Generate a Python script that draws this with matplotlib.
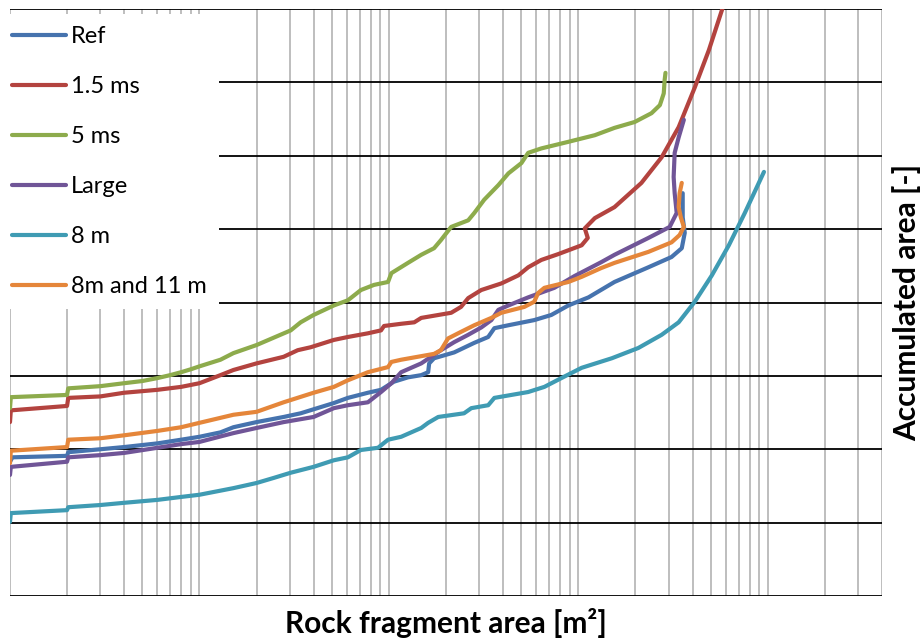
import matplotlib
matplotlib.use('Agg')
import matplotlib.pyplot as plt
from matplotlib.ticker import LogLocator, MultipleLocator, NullFormatter

# fragment area [m2] and accumulated area [-] for each run
ref_x = [1e-4, 1.03e-4, 2e-4, 2.03e-4, 3e-4, 4e-4, 6e-4, 8e-4, 1e-3, 1.29e-3,
         1.51e-3, 2e-3, 2.78e-3, 3.42e-3, 5.12e-3, 6.07e-3, 7.74e-3, 9.08e-3, 1.06e-2, 1.26e-2,
         1.48e-2, 1.61e-2, 1.63e-2, 1.73e-2, 2.21e-2, 2.82e-2, 3.34e-2, 3.60e-2, 4.27e-2, 5.84e-2,
         7.19e-2, 8.85e-2, 0.113, 0.155, 0.234, 0.310, 0.351, 0.364, 0.355, 0.355]
ref_y = [0.183, 0.189, 0.191, 0.196, 0.200, 0.203, 0.208, 0.213, 0.217, 0.223,
         0.230, 0.237, 0.244, 0.249, 0.263, 0.270, 0.277, 0.281, 0.292, 0.298,
         0.301, 0.305, 0.317, 0.324, 0.332, 0.345, 0.353, 0.365, 0.369, 0.376,
         0.383, 0.396, 0.407, 0.428, 0.448, 0.462, 0.474, 0.495, 0.516, 0.549]

ms15_x = [1e-4, 1.01e-4, 2e-4, 2.03e-4, 3e-4, 4e-4, 6e-4, 8e-4, 1e-3, 1.29e-3,
          1.51e-3, 2e-3, 2.78e-3, 3.30e-3, 3.86e-3, 5.12e-3, 6.07e-3, 7.74e-3, 9.08e-3, 9.42e-3,
          1.16e-2, 1.36e-2, 1.48e-2, 2.13e-2, 2.40e-2, 2.62e-2, 3.07e-2, 3.92e-2, 4.82e-2, 5.43e-2,
          6.37e-2, 7.83e-2, 0.104, 0.112, 0.108, 0.122, 0.155, 0.215, 0.275, 0.338,
          0.411, 0.488, 0.607]
ms15_y = [0.237, 0.253, 0.259, 0.270, 0.272, 0.277, 0.281, 0.285, 0.290, 0.301,
          0.308, 0.317, 0.326, 0.335, 0.339, 0.349, 0.353, 0.358, 0.362, 0.368,
          0.371, 0.373, 0.379, 0.386, 0.394, 0.406, 0.417, 0.426, 0.437, 0.448,
          0.458, 0.466, 0.478, 0.488, 0.501, 0.515, 0.530, 0.563, 0.598, 0.639,
          0.693, 0.744, 0.819]

ms5_x = [1e-4, 1.01e-4, 2e-4, 2.03e-4, 3e-4, 4e-4, 5e-4, 6e-4, 7e-4, 8e-4,
         9e-4, 1e-3, 1.29e-3, 1.51e-3, 2e-3, 3.03e-3, 3.42e-3, 4e-3, 5.12e-3, 6.07e-3,
         7.11e-3, 8.34e-3, 9.89e-3, 1.03e-2, 1.26e-2, 1.48e-2, 1.73e-2, 1.88e-2, 2.13e-2, 2.62e-2,
         2.82e-2, 3.18e-2, 3.78e-2, 4.27e-2, 5e-2, 5.43e-2, 6.37e-2, 8.85e-2, 0.122, 0.155,
         0.198, 0.243, 0.269, 0.282, 0.285, 0.288]
ms5_y = [0.256, 0.271, 0.274, 0.283, 0.286, 0.290, 0.293, 0.297, 0.301, 0.305,
         0.309, 0.313, 0.322, 0.331, 0.342, 0.362, 0.373, 0.383, 0.396, 0.403,
         0.417, 0.424, 0.428, 0.440, 0.454, 0.465, 0.474, 0.485, 0.503, 0.512,
         0.522, 0.540, 0.560, 0.576, 0.590, 0.604, 0.610, 0.619, 0.628, 0.638,
         0.646, 0.658, 0.669, 0.685, 0.703, 0.713]

large_x = [1e-4, 1.01e-4, 2e-4, 2.03e-4, 3e-4, 4e-4, 6e-4, 8e-4, 1e-3, 1.51e-3,
           2e-3, 2.78e-3, 4e-3, 5.12e-3, 6.07e-3, 7.74e-3, 9.08e-3, 1.03e-2, 1.16e-2, 1.48e-2,
           1.88e-2, 2.21e-2, 2.62e-2, 3.07e-2, 3.47e-2, 3.78e-2, 4.27e-2, 5.43e-2, 7.46e-2, 9.53e-2,
           0.132, 0.155, 0.234, 0.303, 0.330, 0.322, 0.318, 0.322, 0.338, 0.360]
large_y = [0.165, 0.176, 0.183, 0.189, 0.192, 0.195, 0.202, 0.207, 0.210, 0.222,
           0.229, 0.237, 0.244, 0.256, 0.260, 0.264, 0.278, 0.290, 0.305, 0.317,
           0.335, 0.346, 0.356, 0.366, 0.376, 0.390, 0.396, 0.407, 0.420, 0.436,
           0.455, 0.465, 0.488, 0.503, 0.522, 0.549, 0.571, 0.604, 0.625, 0.649]

m8_x = [1e-4, 1.01e-4, 2e-4, 2.03e-4, 3e-4, 4e-4, 6e-4, 8e-4, 1e-3, 1.51e-3,
        2e-3, 2.47e-3, 3.03e-3, 4e-3, 5.12e-3, 6.07e-3, 7.11e-3, 8.75e-3, 9.89e-3, 1.16e-2,
        1.48e-2, 1.61e-2, 1.82e-2, 2.49e-2, 2.72e-2, 3.34e-2, 3.60e-2, 5.43e-2, 6.61e-2, 8.13e-2,
        0.104, 0.150, 0.207, 0.275, 0.338, 0.411, 0.506, 0.622, 0.755, 0.953]
m8_y = [0.101, 0.113, 0.117, 0.121, 0.124, 0.127, 0.131, 0.135, 0.138, 0.147,
        0.154, 0.161, 0.168, 0.176, 0.185, 0.189, 0.199, 0.202, 0.213, 0.217,
        0.229, 0.236, 0.244, 0.249, 0.256, 0.260, 0.270, 0.278, 0.285, 0.297,
        0.311, 0.324, 0.338, 0.356, 0.373, 0.401, 0.437, 0.478, 0.522, 0.578]

m811_x = [1e-4, 1.01e-4, 2e-4, 2.03e-4, 3e-4, 4e-4, 6e-4, 8e-4, 1e-3, 1.51e-3,
          2e-3, 2.78e-3, 4e-3, 5.12e-3, 6.07e-3, 7.74e-3, 9.89e-3, 1.03e-2, 1.16e-2, 1.73e-2,
          1.88e-2, 2.05e-2, 2.40e-2, 2.82e-2, 3.47e-2, 3.92e-2, 5.18e-2, 5.84e-2, 6.13e-2, 6.61e-2,
          8.85e-2, 0.104, 0.132, 0.155, 0.234, 0.310, 0.342, 0.360, 0.347, 0.338,
          0.342, 0.351]
m811_y = [0.181, 0.198, 0.203, 0.213, 0.215, 0.219, 0.225, 0.230, 0.236, 0.247,
          0.251, 0.264, 0.277, 0.285, 0.294, 0.305, 0.312, 0.319, 0.322, 0.330,
          0.335, 0.351, 0.360, 0.369, 0.379, 0.386, 0.394, 0.401, 0.413, 0.420,
          0.428, 0.435, 0.447, 0.454, 0.469, 0.482, 0.492, 0.503, 0.516, 0.530,
          0.549, 0.563]

labels = ['Ref', '1.5 ms', '5 ms', 'Large', '8 m', '8m and 11 m']
colors = ['#4673AE', '#B3433F', '#8DAB4C', '#705597', '#3F9BB3', '#E5863A']

FONT = 'Lato'


def main():
    fig = plt.figure(figsize=(9.24, 6.41), dpi=100)
    ax = fig.add_axes([10 / 924, 45 / 641, 872 / 924, 587 / 641])

    series = [(ref_x, ref_y), (ms15_x, ms15_y), (ms5_x, ms5_y),
              (large_x, large_y), (m8_x, m8_y), (m811_x, m811_y)]
    for (x, y), label, color in zip(series, labels, colors):
        ax.plot(x, y, color=color, lw=3, label=label,
                solid_capstyle='round', solid_joinstyle='round')

    ax.set_xscale('log')
    ax.set_xlim(1e-4, 4.0)
    ax.set_ylim(0, 0.8)
    ax.xaxis.set_major_locator(LogLocator(base=10, numticks=20))
    ax.xaxis.set_minor_locator(LogLocator(base=10, subs=range(2, 10), numticks=20))
    ax.xaxis.set_minor_formatter(NullFormatter())
    ax.yaxis.set_major_locator(MultipleLocator(0.1))
    ax.set_axisbelow(True)
    ax.grid(which='both', axis='x', color='#B3B3B3', lw=1.2)
    ax.grid(which='major', axis='y', color='black', lw=1.3)
    ax.tick_params(which='both', length=0, labelbottom=False, labelleft=False)
    for s in ax.spines.values():
        s.set_visible(False)

    # white legend box sits over the grid in the upper left corner
    leg = ax.legend(loc='upper left', bbox_to_anchor=(0, 1 - 14 / 641),
                    bbox_transform=fig.transFigure, borderaxespad=0, borderpad=0.5,
                    handlelength=2.3, handletextpad=0.22, labelspacing=1.23,
                    frameon=True, fancybox=False, framealpha=1,
                    prop={'family': FONT, 'size': 17})
    leg.get_frame().set_edgecolor('none')
    leg.get_frame().set_facecolor('white')

    fig.text(446 / 924, 1 - 623 / 641, 'Rock fragment area [m²]', ha='center', va='center',
             family=FONT, fontweight='bold', fontsize=21.5)
    fig.text(907 / 924, 1 - 302 / 641, 'Accumulated area [-]', ha='center', va='center',
             rotation=90, family=FONT, fontweight='bold', fontsize=21.5)

    fig.savefig('out.png', dpi=100, facecolor='white')


if __name__ == '__main__':
    main()
